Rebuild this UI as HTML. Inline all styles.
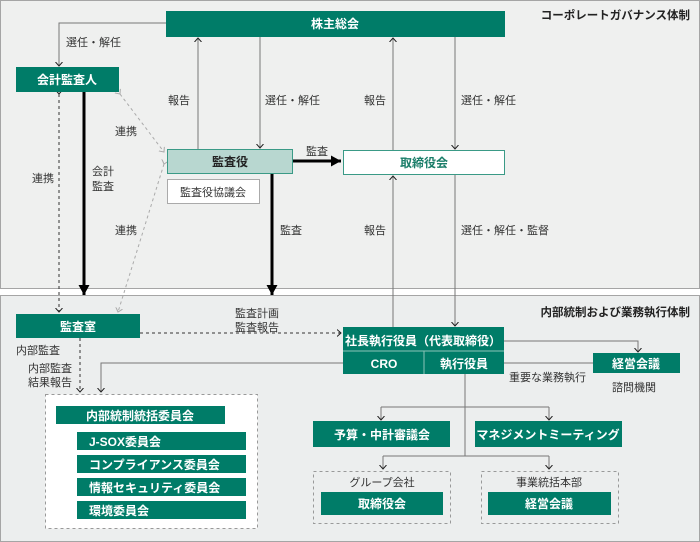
<!DOCTYPE html>
<html><head><meta charset="utf-8"><style>
html,body{margin:0;padding:0;background:#fff;}
svg{display:block;font-family:"Liberation Sans","Noto Sans CJK JP",sans-serif;}
</style></head><body>
<svg width="700" height="542" viewBox="0 0 700 542" xmlns="http://www.w3.org/2000/svg">
<defs>
<marker id="ob" markerWidth="8" markerHeight="8" refX="4" refY="4" orient="auto" markerUnits="userSpaceOnUse"><path d="M0,0.5 L4,4 L0,7.5" fill="none" stroke="#222" stroke-width="1"/></marker>
<marker id="og" markerWidth="8" markerHeight="8" refX="4" refY="4" orient="auto" markerUnits="userSpaceOnUse"><path d="M0,0.5 L4,4 L0,7.5" fill="none" stroke="#aaa" stroke-width="1"/></marker>
<marker id="fb" markerWidth="12" markerHeight="12" refX="10" refY="6" orient="auto" markerUnits="userSpaceOnUse"><path d="M0,0.5 L10,6 L0,11.5 Z" fill="#000"/></marker>
</defs>
<rect x="0.5" y="0.5" width="699" height="288" fill="#eff0ef" stroke="#a5a5a5"/>
<rect x="0.5" y="295.5" width="699" height="246" fill="#eceeee" stroke="#a5a5a5"/>
<g font-size="11.5" fill="#222" font-weight="bold">
<text x="690" y="19" text-anchor="end">コーポレートガバナンス体制</text>
<text x="690" y="316" text-anchor="end">内部統制および業務執行体制</text>
</g>
<!-- lines top -->
<g stroke="#777" stroke-width="1" fill="none">
<path d="M166,23 H59 V66" marker-end="url(#ob)"/>
<path d="M198,149 V38" marker-end="url(#ob)"/>
<path d="M260,37 V148" marker-end="url(#ob)"/>
<path d="M393,150 V38" marker-end="url(#ob)"/>
<path d="M455,37 V149" marker-end="url(#ob)"/>
<path d="M393,327 V176" marker-end="url(#ob)"/>
<path d="M455,175 V326" marker-end="url(#ob)"/>
<path d="M504,341 H638 V352" marker-end="url(#ob)"/>
<path d="M504,363 H593"/>
<path d="M343,363 H101 V392" marker-end="url(#ob)"/>
<path d="M465,374 V456"/>
<path d="M381,407 H549"/>
<path d="M381,407 V420" marker-end="url(#ob)"/>
<path d="M549,407 V420" marker-end="url(#ob)"/>
<path d="M383,456 H549"/>
<path d="M383,456 V469" marker-end="url(#ob)"/>
<path d="M549,456 V469" marker-end="url(#ob)"/>
<path d="M67,423 V510 M67,441 H77 M67,464 H77 M67,487 H77 M67,510 H77" stroke="#333"/>
</g>
<!-- thick -->
<g stroke="#000" stroke-width="3" fill="none">
<path d="M84,92 V295" marker-end="url(#fb)"/>
<path d="M272,173 V295" marker-end="url(#fb)"/>
<path d="M292,161 H341" marker-end="url(#fb)"/>
</g>
<!-- dashed -->
<g stroke="#333" stroke-width="1" fill="none" stroke-dasharray="3,3">
<path d="M59,94 V312" marker-start="url(#ob)" marker-end="url(#ob)"/>
<path d="M140,333 H341" marker-end="url(#ob)"/>
<path d="M80,338 V392" marker-end="url(#ob)"/>
</g>
<g stroke="#aaa" stroke-width="1" fill="none" stroke-dasharray="3,3">
<path d="M120,94 L164,152" marker-start="url(#og)" marker-end="url(#og)"/>
<path d="M164,164 L118,312" marker-start="url(#og)" marker-end="url(#og)"/>
</g>
<rect x="45.5" y="394.5" width="212" height="134" fill="#fff" stroke="#999" stroke-dasharray="3,3"/>
<rect x="313.5" y="471.5" width="137" height="52" fill="none" stroke="#999" stroke-dasharray="3,3"/>
<rect x="481.5" y="471.5" width="137" height="52" fill="none" stroke="#999" stroke-dasharray="3,3"/>
<!-- boxes -->
<g fill="#007c68">
<rect x="166" y="11" width="339" height="26"/>
<rect x="16" y="67" width="103" height="25"/>
<rect x="16" y="314" width="124" height="24"/>
<rect x="343" y="327" width="161" height="47"/>
<rect x="593" y="353" width="87" height="20"/>
<rect x="56" y="406" width="169" height="18"/>
<rect x="77" y="432" width="169" height="18"/>
<rect x="77" y="455" width="169" height="18"/>
<rect x="77" y="478" width="169" height="18"/>
<rect x="77" y="501" width="169" height="18"/>
<rect x="313" y="421" width="137" height="26"/>
<rect x="475" y="421" width="147" height="26"/>
<rect x="321" y="492" width="122" height="23"/>
<rect x="488" y="492" width="123" height="23"/>
</g>
<path d="M343,351 H504 M424,351 V374" stroke="#8cc4b8" stroke-width="1"/>
<rect x="167.5" y="149.5" width="125" height="24" fill="#b8d7d0" stroke="#3a9a86"/>
<rect x="167.5" y="179.5" width="92" height="24" fill="#fff" stroke="#aaa"/>
<rect x="343.5" y="150.5" width="161" height="24" fill="#fff" stroke="#3a9a86"/>
<g font-size="12" font-weight="bold" fill="#fff" text-anchor="middle">
<text x="335" y="28">株主総会</text>
<text x="67" y="84">会計監査人</text>
<text x="78" y="331">監査室</text>
<text x="423" y="345">社長執行役員（代表取締役）</text>
<text x="384" y="368">CRO</text>
<text x="464" y="368">執行役員</text>
<text x="636" y="368">経営会議</text>
<text x="140" y="420" text-anchor="middle">内部統制統括委員会</text>
<text x="382" y="439">予算・中計審議会</text>
<text x="548" y="439">マネジメントミーティング</text>
<text x="382" y="508">取締役会</text>
<text x="549" y="508">経営会議</text>
</g>
<g font-size="12" font-weight="bold" fill="#fff">
<text x="89" y="446">J-SOX委員会</text>
<text x="89" y="469">コンプライアンス委員会</text>
<text x="89" y="492">情報セキュリティ委員会</text>
<text x="89" y="515">環境委員会</text>
</g>
<g font-size="12" font-weight="bold" text-anchor="middle">
<text x="230" y="166" fill="#222">監査役</text>
<text x="424" y="167" fill="#1a7d69">取締役会</text>
</g>
<g font-size="11" fill="#333">
<text x="213" y="196" text-anchor="middle">監査役協議会</text>
<text x="66" y="46">選任・解任</text>
<text x="168" y="104">報告</text>
<text x="265" y="104">選任・解任</text>
<text x="364" y="104">報告</text>
<text x="461" y="104">選任・解任</text>
<text x="364" y="234">報告</text>
<text x="461" y="234">選任・解任・監督</text>
<text x="115" y="135">連携</text>
<text x="115" y="234">連携</text>
<text x="32" y="182">連携</text>
<text x="92" y="175">会計</text>
<text x="92" y="190">監査</text>
<text x="306" y="155">監査</text>
<text x="280" y="234">監査</text>
<text x="16" y="354">内部監査</text>
<text x="28" y="372">内部監査</text>
<text x="28" y="386">結果報告</text>
<text x="235" y="317">監査計画</text>
<text x="235" y="331">監査報告</text>
<text x="509" y="381">重要な業務執行</text>
<text x="612" y="391">諮問機関</text>
<text x="382" y="486" text-anchor="middle">グループ会社</text>
<text x="549" y="486" text-anchor="middle">事業統括本部</text>
</g>
</svg>
</body></html>
